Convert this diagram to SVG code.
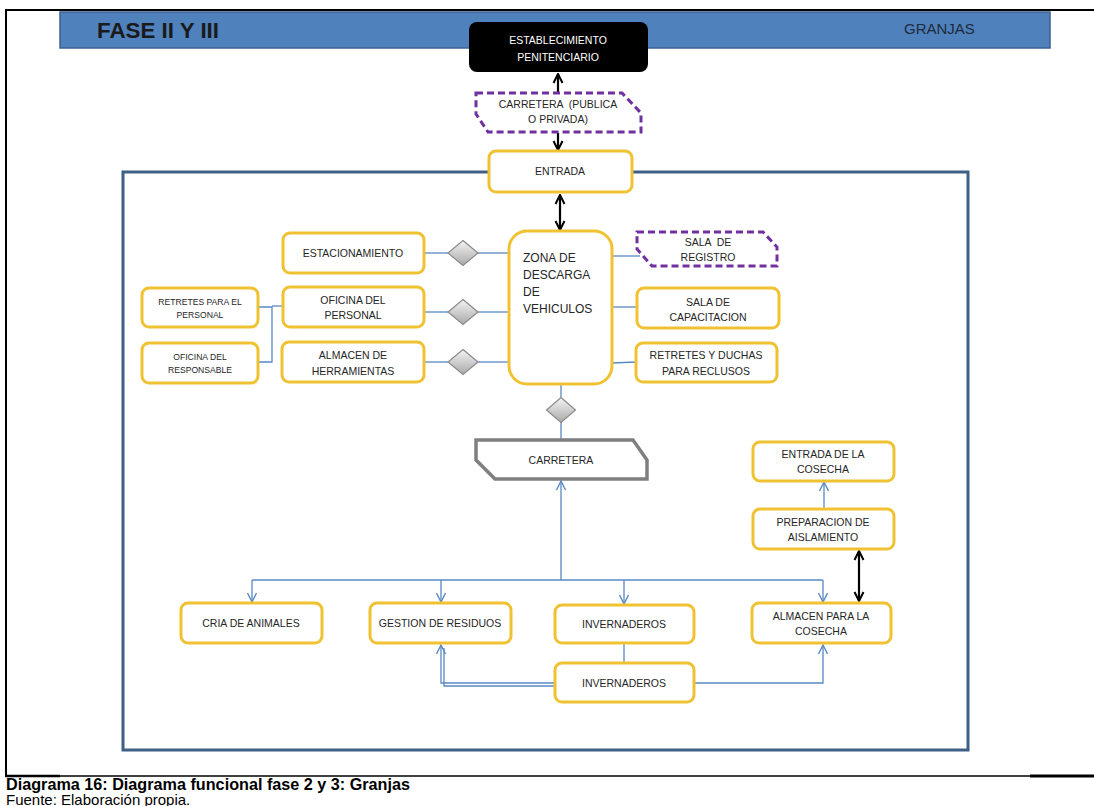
<svg xmlns="http://www.w3.org/2000/svg" width="1094" height="806" viewBox="0 0 1094 806">
<style>
  .box{fill:#fff;stroke:#f0c131;stroke-width:3}
  .t{font-family:"Liberation Sans",Arial,sans-serif;font-size:10.5px;fill:#262626;text-anchor:middle}
  .ts{font-family:"Liberation Sans",Arial,sans-serif;font-size:8.6px;fill:#262626;text-anchor:middle}
  .bl{fill:none;stroke:#5a89c4;stroke-width:1.3}
  .bk{fill:none;stroke:#000;stroke-width:2.2}
  .dia{fill:url(#dg);stroke:#8a8a8a;stroke-width:1.2}
</style>
<defs>
  <linearGradient id="dg" x1="0" y1="0" x2="0" y2="1">
    <stop offset="0" stop-color="#f4f4f4"/>
    <stop offset="1" stop-color="#a9a9a9"/>
  </linearGradient>
  <marker id="ab" viewBox="0 0 12 12" refX="11" refY="6" markerWidth="12" markerHeight="12" markerUnits="userSpaceOnUse" orient="auto-start-reverse">
    <path d="M2,1.5 L11,6 L2,10.5" fill="none" stroke="#5a89c4" stroke-width="1.4"/>
  </marker>
  <marker id="ak" viewBox="0 0 12 12" refX="11" refY="6" markerWidth="12" markerHeight="12" markerUnits="userSpaceOnUse" orient="auto-start-reverse">
    <path d="M2,1.5 L11,6 L2,10.5" fill="none" stroke="#000" stroke-width="2"/>
  </marker>
</defs>
<rect width="1094" height="806" fill="#fff"/>

<g id="frame">
  <line x1="5" y1="10" x2="1094" y2="10" stroke="#000" stroke-width="2"/>
  <line x1="6" y1="9" x2="6" y2="777" stroke="#000" stroke-width="2"/>
  <line x1="5" y1="776" x2="60" y2="776" stroke="#000" stroke-width="2.5"/>
  <line x1="60" y1="776" x2="1030" y2="776" stroke="#000" stroke-width="1.5"/>
  <line x1="1030" y1="776" x2="1094" y2="776" stroke="#000" stroke-width="3"/>
</g>

<g id="header">
  <rect x="60" y="12" width="990" height="36" fill="#4f81bd" stroke="#3b6090" stroke-width="1.5"/>
  <text x="97" y="38" font-family="'Liberation Sans',Arial,sans-serif" font-size="22" font-weight="bold" fill="#1a1a1a" textLength="122" lengthAdjust="spacingAndGlyphs">FASE II Y III</text>
  <text x="904" y="34" font-family="'Liberation Sans',Arial,sans-serif" font-size="15" fill="#1f2a3a">GRANJAS</text>
</g>

<rect id="inner-frame" x="123" y="172" width="845" height="578" fill="none" stroke="#3e5f86" stroke-width="3"/>

<g id="connectors">
  <line class="bk" x1="558" y1="92" x2="558" y2="74" marker-end="url(#ak)"/>
  <line class="bk" x1="558" y1="133" x2="558" y2="150" marker-end="url(#ak)"/>
  <line class="bk" x1="560" y1="195" x2="560" y2="230" stroke-width="2.5" marker-start="url(#ak)" marker-end="url(#ak)"/>
  <line class="bl" x1="424" y1="253" x2="448" y2="253"/>
  <line class="bl" x1="478" y1="253" x2="509" y2="253"/>
  <line class="bl" x1="424" y1="312" x2="448" y2="312"/>
  <line class="bl" x1="478" y1="312" x2="509" y2="312"/>
  <line class="bl" x1="424" y1="362" x2="448" y2="362"/>
  <line class="bl" x1="478" y1="362" x2="509" y2="362"/>
  <path class="bl" d="M258,307 H272 V362 H258"/>
  <path class="bl" d="M272,306 H283"/>
  <line class="bl" x1="612" y1="256" x2="640" y2="256"/>
  <line class="bl" x1="612" y1="307" x2="637" y2="307"/>
  <line class="bl" x1="612" y1="363" x2="636" y2="362"/>
  <line class="bl" x1="561" y1="384" x2="561" y2="397"/>
  <line class="bl" x1="561" y1="422" x2="561" y2="440"/>
  <line class="bl" x1="561" y1="580" x2="561" y2="481" marker-end="url(#ab)"/>
  <line class="bl" x1="252" y1="580" x2="823" y2="580"/>
  <line class="bl" x1="252" y1="580" x2="252" y2="602" marker-end="url(#ab)"/>
  <line class="bl" x1="441" y1="580" x2="441" y2="602" marker-end="url(#ab)"/>
  <line class="bl" x1="624" y1="580" x2="624" y2="604" marker-end="url(#ab)"/>
  <line class="bl" x1="823" y1="580" x2="823" y2="602" marker-end="url(#ab)"/>
  <line class="bl" x1="624" y1="643" x2="624" y2="663"/>
  <path class="bl" d="M555,686 H444 V648" stroke="#9bb7da"/>
  <path class="bl" d="M555,683 H441 V645" marker-end="url(#ab)"/>
  <path class="bl" d="M694,683 H823 V645" marker-end="url(#ab)"/>
  <line class="bl" x1="824" y1="509" x2="824" y2="482" marker-end="url(#ab)"/>
  <line class="bk" x1="859" y1="551" x2="859" y2="601" stroke-width="2.5" marker-start="url(#ak)" marker-end="url(#ak)"/>
</g>

<g id="establecimiento">
  <rect x="469" y="22" width="179" height="50" rx="8" fill="#000"/>
  <text class="t" x="558" y="44" style="fill:#fff">ESTABLECIMIENTO</text>
  <text class="t" x="558" y="61" style="fill:#fff">PENITENCIARIO</text>
</g>

<g id="carretera-publica">
  <path d="M476,93 L622,93 L641,113 L641,132 L488,132 L476,114 Z" fill="#fff" stroke="#7030a0" stroke-width="3" stroke-dasharray="7,4"/>
  <text class="t" x="558" y="108" xml:space="preserve">CARRETERA  (PUBLICA</text>
  <text class="t" x="558" y="123">O PRIVADA)</text>
</g>

<g id="entrada">
  <rect class="box" x="489" y="151" width="143" height="41" rx="7"/>
  <text class="t" x="560" y="175">ENTRADA</text>
</g>

<g id="zona">
  <rect class="box" x="509" y="231" width="103" height="153" rx="18"/>
  <text x="523" y="262" font-family="'Liberation Sans',Arial,sans-serif" font-size="12" fill="#262626">ZONA DE</text>
  <text x="523" y="279" font-family="'Liberation Sans',Arial,sans-serif" font-size="12" fill="#262626">DESCARGA</text>
  <text x="523" y="296" font-family="'Liberation Sans',Arial,sans-serif" font-size="12" fill="#262626">DE</text>
  <text x="523" y="313" font-family="'Liberation Sans',Arial,sans-serif" font-size="12" fill="#262626">VEHICULOS</text>
</g>

<g id="estacionamiento">
  <rect class="box" x="283" y="233" width="141" height="40" rx="7"/>
  <text class="t" x="353" y="257">ESTACIONAMIENTO</text>
</g>
<g id="oficina-personal">
  <rect class="box" x="283" y="287" width="141" height="40" rx="7"/>
  <text class="t" x="353" y="304">OFICINA DEL</text>
  <text class="t" x="353" y="319">PERSONAL</text>
</g>
<g id="almacen-herramientas">
  <rect class="box" x="282" y="342" width="142" height="40" rx="7"/>
  <text class="t" x="353" y="359">ALMACEN DE</text>
  <text class="t" x="353" y="375">HERRAMIENTAS</text>
</g>
<g id="retretes-personal">
  <rect class="box" x="142" y="288" width="116" height="39" rx="7"/>
  <text class="ts" x="200" y="305">RETRETES PARA EL</text>
  <text class="ts" x="200" y="318">PERSONAL</text>
</g>
<g id="oficina-responsable">
  <rect class="box" x="142" y="343" width="116" height="40" rx="7"/>
  <text class="ts" x="200" y="360">OFICINA DEL</text>
  <text class="ts" x="200" y="373">RESPONSABLE</text>
</g>

<g id="diamonds">
  <polygon class="dia" points="463,240.5 478,253 463,265.5 448,253"/>
  <polygon class="dia" points="463,299.5 478,312 463,324.5 448,312"/>
  <polygon class="dia" points="463,349.5 478,362 463,374.5 448,362"/>
  <polygon class="dia" points="561,397.5 575.5,410 561,422.5 546.5,410"/>
</g>

<g id="sala-registro">
  <path d="M637,232 L763,232 L777,247 L777,266 L652,266 L637,249 Z" fill="#fff" stroke="#7030a0" stroke-width="3" stroke-dasharray="7,4"/>
  <text class="t" x="708" y="246" xml:space="preserve">SALA  DE</text>
  <text class="t" x="708" y="261">REGISTRO</text>
</g>
<g id="sala-capacitacion">
  <rect class="box" x="637" y="288" width="142" height="40" rx="7"/>
  <text class="t" x="708" y="306">SALA DE</text>
  <text class="t" x="708" y="321">CAPACITACION</text>
</g>
<g id="retretes-reclusos">
  <rect class="box" x="636" y="343" width="141" height="39" rx="7"/>
  <text class="t" x="706" y="359">RETRETES Y DUCHAS</text>
  <text class="t" x="706" y="375">PARA RECLUSOS</text>
</g>

<g id="carretera">
  <path d="M476,440 L633,440 L647,460 L647,479 L495,479 L476,460 Z" fill="#fff" stroke="#7f7f7f" stroke-width="3.5"/>
  <text class="t" x="561" y="464">CARRETERA</text>
</g>

<g id="cria">
  <rect class="box" x="181" y="603" width="141" height="40" rx="7"/>
  <text class="t" x="251" y="627">CRIA DE ANIMALES</text>
</g>
<g id="gestion">
  <rect class="box" x="370" y="603" width="141" height="40" rx="7"/>
  <text class="t" x="440" y="627">GESTION DE RESIDUOS</text>
</g>
<g id="invernaderos-1">
  <rect class="box" x="555" y="605" width="139" height="38" rx="7"/>
  <text class="t" x="624" y="628">INVERNADEROS</text>
</g>
<g id="invernaderos-2">
  <rect class="box" x="555" y="663" width="139" height="39" rx="7"/>
  <text class="t" x="624" y="687">INVERNADEROS</text>
</g>
<g id="almacen-cosecha">
  <rect class="box" x="752" y="603" width="139" height="40" rx="7"/>
  <text class="t" x="821" y="620">ALMACEN PARA LA</text>
  <text class="t" x="821" y="635">COSECHA</text>
</g>
<g id="preparacion">
  <rect class="box" x="753" y="509" width="141" height="40" rx="7"/>
  <text class="t" x="823" y="526">PREPARACION DE</text>
  <text class="t" x="823" y="541">AISLAMIENTO</text>
</g>
<g id="entrada-cosecha">
  <rect class="box" x="753" y="442" width="141" height="39" rx="7"/>
  <text class="t" x="823" y="458">ENTRADA DE LA</text>
  <text class="t" x="823" y="473">COSECHA</text>
</g>

<g id="caption">
  <text x="6" y="790" font-family="'Liberation Sans',Arial,sans-serif" font-size="16.5" font-weight="bold" fill="#000" textLength="404" lengthAdjust="spacingAndGlyphs">Diagrama 16: Diagrama funcional fase 2 y 3: Granjas</text>
  <text x="6" y="805" font-family="'Liberation Sans',Arial,sans-serif" font-size="15" fill="#000">Fuente: Elaboración propia.</text>
</g>
</svg>
